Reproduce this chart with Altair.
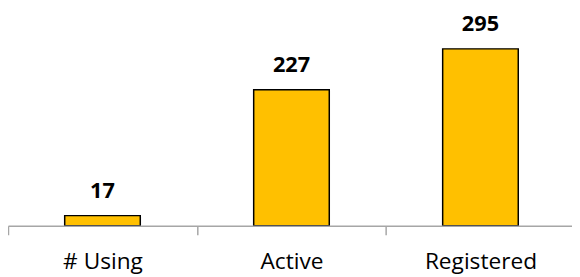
import altair as alt
import pandas as pd

categories = ["# Using", "Active", "Registered"]
values = [17, 227, 295]

df = pd.DataFrame({"category": categories, "value": values})

x = alt.X(
    "category:N",
    sort=categories,
    title=None,
    scale=alt.Scale(paddingInner=0, paddingOuter=0, range=[0, 575]),
    axis=alt.Axis(
        labelAngle=0,
        domainColor="#A6A6A6",
        domainWidth=1.5,
        tickColor="#A6A6A6",
        tickWidth=1.5,
        tickSize=9,
        tickBand="extent",
        labelFont="Open Sans",
        labelFontSize=23,
        labelColor="#000000",
        labelPadding=16,
        zindex=1,
    ),
)
y = alt.Y("value:Q", scale=alt.Scale(domain=[0, 360]), axis=None)

bars = alt.Chart(df).mark_bar(
    width=alt.RelativeBandSize(0.4), color="#FFC000", stroke="#000000", strokeWidth=1.5
).encode(x=x, y=y)

text = alt.Chart(df).mark_text(
    font="Open Sans", fontSize=22, fontWeight="bold",
    baseline="alphabetic", dy=-18, color="#000000"
).encode(x=x, y=y, text="value:Q")

chart = (bars + text).properties(
    width=564, height=219,
    autosize=alt.AutoSizeParams(type="none"),
    padding={"left": 0, "top": 0, "right": 8, "bottom": 50},
).configure_view(stroke=None)

chart.save("out.html", embed_options={"renderer": "svg", "actions": False})
